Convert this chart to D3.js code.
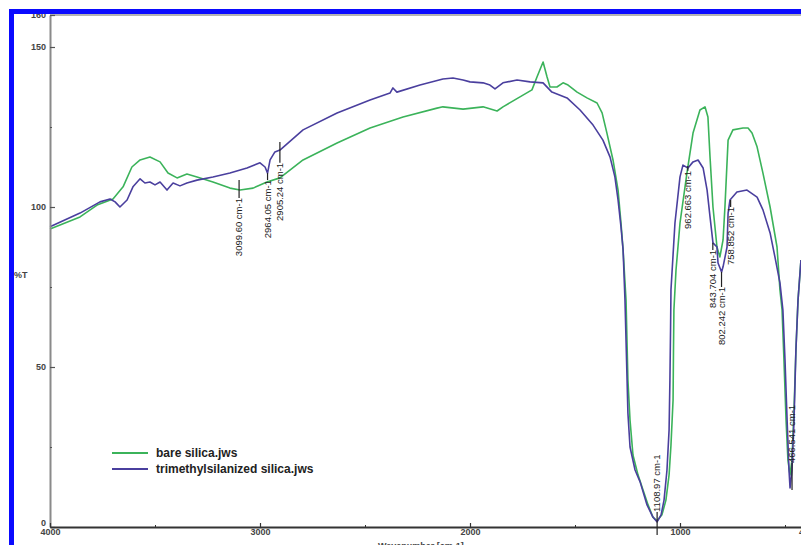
<!DOCTYPE html>
<html>
	<head>
		<title>FT-IR spectra</title>
		<style>
			body
			{
				margin: 0;
				background: #ffffff;
			}

			svg text
			{
				font-family: "Liberation Sans", Arial, sans-serif;
			}

			.tickLabel
			{
				font-size: 9px;
				font-weight: bold;
				fill: #444444;
			}

			.peakLabel
			{
				font-family: "Liberation Sans Narrow", "Liberation Sans", Arial, sans-serif;
				font-size: 9.5px;
				fill: #222222;
			}

			.legendLabel
			{
				font-size: 12px;
				font-weight: bold;
				fill: #222222;
			}
		</style>
		<script src="https://d3js.org/d3.v7.min.js"></script>
	</head>

	<body>
		<svg id="chart" width="801" height="545"></svg>

		<script>
		// bare silica (green)
		var bareWn = [4000, 3857, 3776, 3700, 3652, 3610, 3571, 3524, 3476, 3438, 3395, 3348, 3300, 3224, 3143, 3095, 3033, 2967, 2905, 2795,
			2633, 2476, 2319, 2157, 2129, 2033, 1938, 1871, 1843, 1762, 1705, 1681, 1652, 1633, 1619, 1586, 1557, 1533, 1490, 1443,
			1395, 1371, 1348, 1319, 1295, 1281, 1271, 1257, 1248, 1238, 1224, 1200, 1176, 1152, 1129, 1110, 1086, 1067, 1052, 1043,
			1033, 1031, 1029, 1019, 1000, 967, 938, 905, 881, 867, 857, 843, 824, 810, 795, 786, 771, 748, 700, 676,
			657, 633, 605, 571, 538, 524, 514, 505, 495, 486, 476, 467, 457, 448, 438, 424];
		var bareT = [93.1, 96.9, 100.6, 102.5, 106.3, 112.5, 114.7, 115.6, 114.1, 110.6, 109.1, 110.3, 109.4, 107.8, 105.9, 105.3, 105.9, 107.8, 109.1, 114.7,
			120, 124.7, 128.1, 130.9, 131.3, 130.6, 131.3, 130, 131.3, 134.4, 136.6, 140.6, 145.3, 140.6, 137.5, 137.5, 138.8, 138.1, 135.9, 134.1,
			132.5, 129.4, 123.1, 114.7, 105.3, 95, 86.6, 70.9, 45.9, 33.4, 22.5, 16.3, 11.6, 6.9, 3.1, 1.9, 3.8, 8.4, 16.3, 25.6,
			39.7, 55.3, 67.8, 80.3, 95, 110.6, 123.1, 130.3, 131.3, 128.1, 115.6, 100, 87.5, 84.4, 89.7, 100, 120.9, 124.1, 124.7, 124.7,
			123.1, 118.8, 110.6, 100, 87.5, 74.1, 67.8, 52.2, 33.4, 20.9, 16.3, 20.9, 36.6, 55.3, 70.9, 83.4];

		// trimethylsilanized silica (blue)
		var tmsWn = [4000, 3857, 3762, 3714, 3690, 3667, 3633, 3605, 3571, 3548, 3524, 3500, 3476, 3443, 3414, 3381, 3348, 3300, 3224, 3143,
			3062, 3000, 2976, 2964, 2952, 2929, 2905, 2795, 2633, 2476, 2381, 2367, 2348, 2238, 2129, 2081, 2033, 2000, 1938, 1905,
			1881, 1843, 1776, 1714, 1652, 1610, 1538, 1476, 1414, 1367, 1333, 1310, 1295, 1281, 1271, 1262, 1252, 1248, 1238, 1214,
			1190, 1157, 1129, 1109, 1090, 1076, 1062, 1052, 1048, 1045, 1043, 1024, 1000, 986, 962, 938, 914, 890, 871, 857,
			843, 824, 819, 802, 795, 776, 771, 762, 729, 681, 633, 605, 571, 548, 524, 510, 500, 490, 481, 476,
			467, 457, 448, 438, 424];
		var tmsT = [93.8, 98.1, 101.6, 102.5, 101.6, 100, 102.2, 106.3, 108.8, 107.5, 107.8, 106.9, 107.8, 105.3, 107.5, 106.6, 107.5, 108.4, 109.4, 110.6,
			112.2, 113.8, 112.5, 110.6, 114.7, 117.2, 117.8, 124.1, 129.4, 133.4, 135.6, 137.2, 135.9, 138.1, 140, 140.3, 139.7, 139.1, 138.8, 138.1,
			136.9, 138.8, 139.7, 139.1, 138.8, 135.9, 134.1, 130.3, 125.6, 120.9, 115.6, 109.4, 102.2, 93.8, 86.6, 70.9, 45.9, 35.6, 25, 17.8,
			14.1, 6.9, 3.1, 1.6, 3.8, 8.4, 17.8, 30.3, 45.9, 61.6, 74.1, 95, 109.4, 113.1, 112.2, 114.1, 114.7, 112.2, 105.3, 96.9,
			88.8, 87.5, 82.5, 79.7, 81.3, 87.5, 98.1, 102.2, 104.7, 105.3, 103.1, 99.1, 91.9, 84.4, 76.3, 67.8, 52.2, 33.4, 17.8, 12.2,
			17.8, 33.4, 55.3, 70.9, 83.4];

		var seriesNames = ["bare silica.jws", "trimethylsilanized silica.jws"];
		var seriesColors = ["#3bb35a", "#4a3f9e"];

		// peak marks: wavenumber, text, %T where the mark line starts and ends
		var peakWn = [3099.60, 2964.05, 2905.24, 1108.97, 962.663, 843.704, 802.242, 758.852, 466.5];
		var peakText = ["3099.60 cm-1", "2964.05 cm-1", "2905.24 cm-1", "1108.97 cm-1", "962.663 cm-1", "843.704 cm-1", "802.242 cm-1", "758.852 cm-1", "466.541 cm-1"];
		var peakFrom = [108.4, 110.6, 120.3, -2.5, 112.8, 88.8, 79.7, 102.2, 11.6];
		var peakTo = [102.8, 108.4, 113.8, 4.7, 111.3, 86.6, 75, 100, 20];

		var xMajor = [4000, 3000, 2000, 1000, 400];
		var xMinor = [3500, 2500, 1500, 500];
		var yMajor = [0, 50, 100, 150, 160];
		var yMinor = [25, 75, 125];

		var svg = d3.select("#chart");

		var x = d3.scaleLinear()
			.domain([4000, 400])
			.range([50, 806]);

		var y = d3.scaleLinear()
			.domain([0, 160])
			.range([527, 15]);

		var plot = svg.append("g");

		// top frame line
		plot.append("line")
			.attr("x1", x(4000)).attr("x2", 801)
			.attr("y1", y(160)).attr("y2", y(160))
			.attr("stroke", "#9a9a9a")
			.attr("stroke-width", 1.5);

		var lineGen = d3.line()
			.x(function(d) { return x(d[0]); })
			.y(function(d) { return y(d[1]); });

		var series = [d3.zip(bareWn, bareT), d3.zip(tmsWn, tmsT)];

		plot.selectAll("path.spectrum")
			.data(series)
			.enter()
			.append("path")
			.attr("class", "spectrum")
			.attr("d", lineGen)
			.attr("fill", "none")
			.attr("stroke", function(d, i) { return seriesColors[i]; })
			.attr("stroke-width", 1.6)
			.attr("stroke-linejoin", "round");

		// axes
		var yAxis = d3.axisLeft(y)
			.tickValues(yMajor)
			.tickSizeInner(-5)
			.tickSizeOuter(0)
			.tickPadding(4);

		var gy = svg.append("g")
			.attr("transform", "translate(" + x(4000) + ",0)")
			.call(yAxis);

		gy.select(".domain").attr("stroke", "#8a8a8a").attr("stroke-width", 2);
		gy.selectAll(".tick line").attr("stroke", "#555555").attr("stroke-width", 1.2);
		gy.selectAll(".tick text")
			.attr("class", "tickLabel")
			.attr("font-size", null)
			.attr("fill", null)
			.attr("dy", function(d) { return d == 0 ? "-0.15em" : "0.32em"; });

		svg.append("g")
			.attr("transform", "translate(" + x(4000) + ",0)")
			.call(d3.axisLeft(y).tickValues(yMinor).tickSizeInner(-2).tickSizeOuter(0).tickFormat(""))
			.call(function(g) { g.select(".domain").remove(); })
			.selectAll(".tick line").attr("stroke", "#555555");

		var xAxis = d3.axisBottom(x)
			.tickValues(xMajor)
			.tickFormat(d3.format("d"))
			.tickSizeInner(-4)
			.tickSizeOuter(0)
			.tickPadding(2);

		var gx = svg.append("g")
			.attr("transform", "translate(0," + y(0) + ")")
			.call(xAxis);

		gx.select(".domain").attr("stroke", "#333333").attr("stroke-width", 1.8);
		gx.selectAll(".tick line").attr("stroke", "#333333").attr("stroke-width", 1.2);
		gx.selectAll(".tick text").attr("class", "tickLabel").attr("font-size", null).attr("fill", null);

		svg.append("g")
			.attr("transform", "translate(0," + y(0) + ")")
			.call(d3.axisBottom(x).tickValues(xMinor).tickSizeInner(-2).tickSizeOuter(0).tickFormat(""))
			.call(function(g) { g.select(".domain").remove(); })
			.selectAll(".tick line").attr("stroke", "#333333");

		svg.append("text")
			.attr("class", "tickLabel")
			.attr("x", 14)
			.attr("y", 278)
			.text("%T");

		svg.append("text")
			.attr("class", "tickLabel")
			.attr("x", 378)
			.attr("y", 549)
			.text("Wavenumber [cm-1]");

		// peak marks
		var peaks = peakWn.map(function(w, i)
		{
			return {wn: w, text: peakText[i], from: peakFrom[i], to: peakTo[i]};
		});

		var marks = svg.append("g").selectAll("g")
			.data(peaks)
			.enter()
			.append("g");

		marks.append("line")
			.attr("x1", function(d) { return x(d.wn); })
			.attr("x2", function(d) { return x(d.wn); })
			.attr("y1", function(d) { return y(d.from); })
			.attr("y2", function(d) { return y(d.to); })
			.attr("stroke", "#222222")
			.attr("stroke-width", 1.2);

		marks.append("text")
			.attr("class", "peakLabel")
			.attr("transform", function(d)
			{
				return "translate(" + x(d.wn) + "," + y(d.to) + ") rotate(-90)";
			})
			.attr("dy", "0.35em")
			.attr("text-anchor", function(d) { return d.to > d.from ? "start" : "end"; })
			.text(function(d) { return d.text; });

		// legend
		var legend = svg.append("g")
			.attr("transform", "translate(112,453)");

		legend.selectAll("line")
			.data(seriesNames)
			.enter()
			.append("line")
			.attr("x1", 0)
			.attr("x2", 36)
			.attr("y1", function(d, i) { return i * 16; })
			.attr("y2", function(d, i) { return i * 16; })
			.attr("stroke", function(d, i) { return seriesColors[i]; })
			.attr("stroke-width", 2);

		legend.selectAll("text")
			.data(seriesNames)
			.enter()
			.append("text")
			.attr("class", "legendLabel")
			.attr("x", 44)
			.attr("y", function(d, i) { return i * 16 + 4; })
			.text(function(d) { return d; });

		// blue outer frame
		svg.append("rect")
			.attr("x", 11.5)
			.attr("y", 11.5)
			.attr("width", 820)
			.attr("height", 560)
			.attr("fill", "none")
			.attr("stroke", "#0a0aff")
			.attr("stroke-width", 5);
		</script>
	</body>
</html>
